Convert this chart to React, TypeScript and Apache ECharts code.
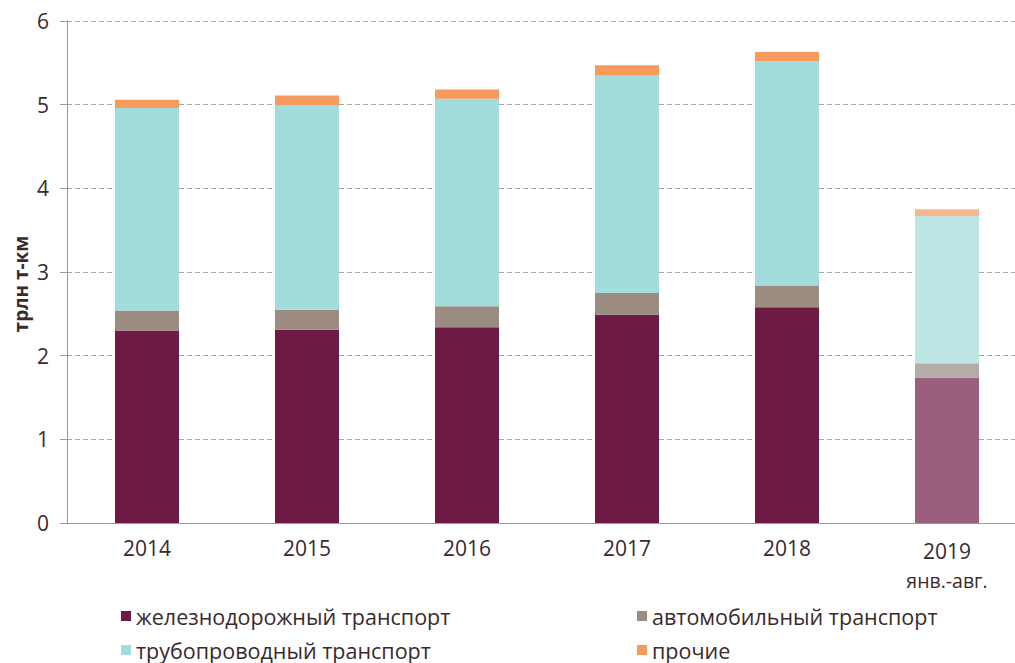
import React, { useEffect, useRef } from "react";
import * as echarts from "echarts";

const categories = ["2014", "2015", "2016", "2017", "2018", "2019"];
const rail = [2.30, 2.31, 2.34, 2.49, 2.58, 1.74];
const auto = [0.24, 0.24, 0.25, 0.26, 0.26, 0.17];
const pipe = [2.42, 2.44, 2.48, 2.60, 2.68, 1.76];
const other = [0.10, 0.12, 0.11, 0.12, 0.11, 0.08];
const seriesNames = [
  "железнодорожный транспорт",
  "автомобильный транспорт",
  "трубопроводный транспорт",
  "прочие",
];
const colors = ["#6d1a45", "#9b8b80", "#a2dcdc", "#f79a5e"];
const lightColors = ["#9a5f7c", "#b5aca7", "#bce5e4", "#f7b68e"];
const yTicks = [0, 1, 2, 3, 4, 5, 6];
const yTitle = "трлн т-км";

const FONT = "'Open Sans', sans-serif";
const TXT = "#3b2a2c";

export default function App() {
  const ref = useRef<HTMLDivElement>(null);
  useEffect(() => {
    document.body.style.margin = "0";
    document.body.style.overflow = "hidden";
    const chart = echarts.init(ref.current!, null, { renderer: "svg" });
    const values = [rail, auto, pipe, other];
    const series = values.map((arr, si) => ({
      name: seriesNames[si],
      type: "bar",
      stack: "total",
      barWidth: 64,
      itemStyle: { color: colors[si] },
      data: arr.map((v, i) =>
        i === arr.length - 1
          ? { value: v, itemStyle: { color: lightColors[si] } }
          : v
      ),
    }));
    const legendPos = [
      { left: 121, top: 605 },
      { left: 637, top: 605 },
      { left: 121, top: 639 },
      { left: 637, top: 639 },
    ];
    chart.setOption({
      animation: false,
      textStyle: { fontFamily: FONT },
      grid: { left: 67, top: 21, width: 960, height: 502, outerBoundsMode: "none" },
      legend: legendPos.map((p, i) => ({
        left: p.left,
        top: p.top,
        data: [seriesNames[i]],
        icon: "rect",
        itemWidth: 10,
        itemHeight: 10,
        itemGap: 5,
        padding: 0,
        selectedMode: false,
        textStyle: { fontFamily: FONT, fontSize: 21.5, color: TXT },
      })),
      graphic: [
        {
          type: "text",
          x: 21,
          y: 284,
          rotation: Math.PI / 2,
          style: {
            text: yTitle,
            fontFamily: FONT,
            fontSize: 19,
            fontWeight: "bold",
            fill: TXT,
            align: "center",
            verticalAlign: "middle",
          },
        },
      ],
      xAxis: {
        type: "category",
        data: categories,
        axisLine: { lineStyle: { color: "#9a9a9a", width: 1 } },
        axisTick: { show: false },
        axisLabel: {
          interval: 0,
          margin: 14,
          fontSize: 21,
          color: TXT,
          fontFamily: FONT,
          formatter: (v: string) => (v === "2019" ? "{a|2019}\n{b|янв.-авг.}" : v),
          rich: {
            a: { fontSize: 21, color: TXT, fontFamily: FONT, lineHeight: 28 },
            b: { fontSize: 19.5, color: TXT, fontFamily: FONT, lineHeight: 30 },
          },
        },
      },
      yAxis: {
        type: "value",
        min: yTicks[0],
        max: yTicks[yTicks.length - 1],
        interval: 1,
        axisLine: { show: true, lineStyle: { color: "#9a9a9a", width: 1 } },
        axisTick: { show: true, length: 7, lineStyle: { color: "#9a9a9a" } },
        axisLabel: { fontSize: 21, color: TXT, fontFamily: FONT, margin: 18 },
        splitLine: { lineStyle: { color: "#a6a6a6", type: [5, 3], width: 1 } },
      },
      series,
    });
    return () => chart.dispose();
  }, []);
  return <div ref={ref} style={{ width: 1015, height: 663 }} />;
}
